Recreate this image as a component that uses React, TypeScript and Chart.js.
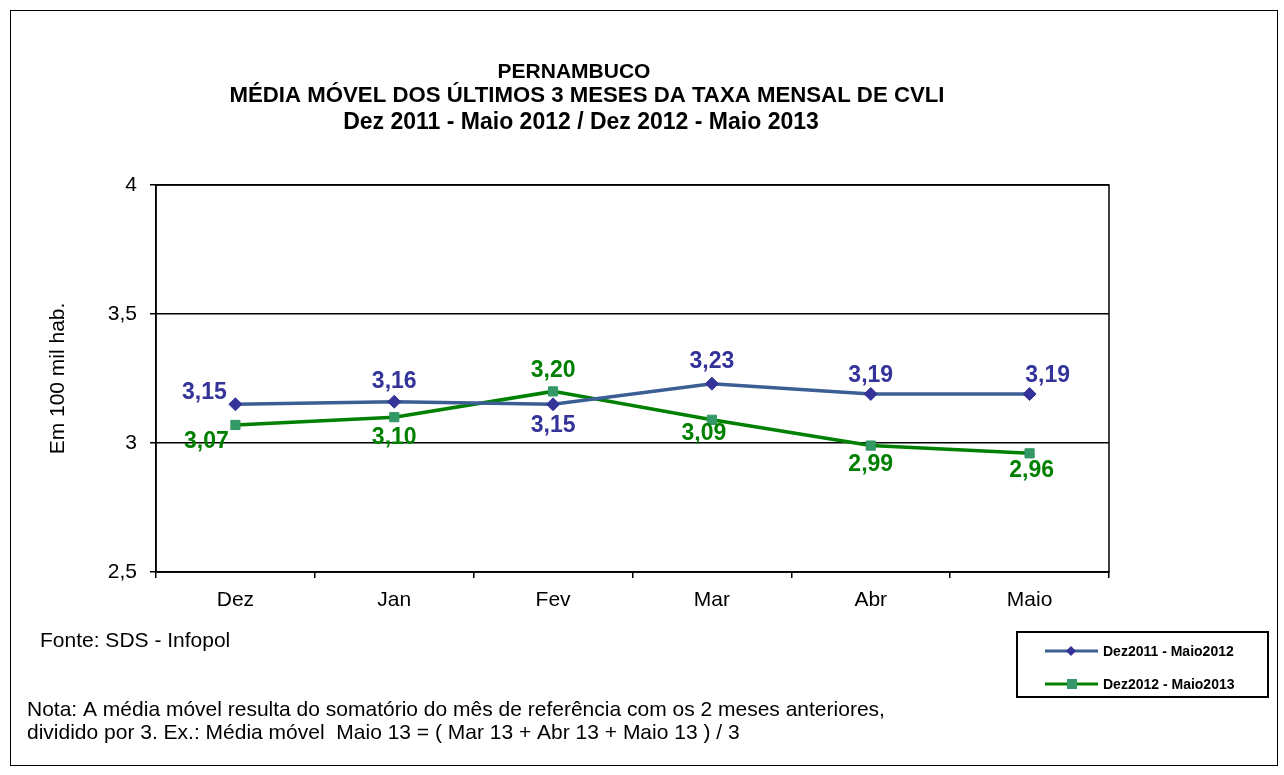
import React, { useEffect, useRef } from "react";
import { Chart, registerables } from "chart.js";

Chart.register(...registerables);

const categories = ["Dez", "Jan", "Fev", "Mar", "Abr", "Maio"];
const series2012 = [3.15, 3.16, 3.15, 3.23, 3.19, 3.19];
const series2013 = [3.07, 3.1, 3.2, 3.09, 2.99, 2.96];
const seriesNames = ["Dez2011 - Maio2012", "Dez2012 - Maio2013"];
const yTicks = [2.5, 3, 3.5, 4];
const titleLines = [
  "PERNAMBUCO",
  "MÉDIA MÓVEL DOS ÚLTIMOS 3 MESES DA TAXA MENSAL DE CVLI",
  "Dez 2011 - Maio 2012 / Dez 2012 - Maio 2013",
];
const yAxisTitle = "Em 100 mil hab.";
const sourceText = "Fonte: SDS - Infopol";
const noteLines = [
  "Nota: A média móvel resulta do somatório do mês de referência com os 2 meses anteriores,",
  "dividido por 3. Ex.: Média móvel  Maio 13 = ( Mar 13 + Abr 13 + Maio 13 ) / 3",
];

// label offsets (style) relative to each point
const labelOffsets2012 = [[-31, -12], [0, -20], [0, 21], [0, -22], [0, -18], [18, -18]];
const labelOffsets2013 = [[-29, 17], [0, 20], [0, -21], [-8, 14], [0, 19], [2, 17]];

const BLUE_LINE = "#3B5E95";
const BLUE_MARK = "#333399";
const GREEN_LINE = "#008000";
const GREEN_MARK = "#339966";
const FONT = "'Liberation Sans', Arial, sans-serif";

const fmt = (v: number) => v.toFixed(2).replace(".", ",");

const decorPlugin = {
  id: "decor",
  afterDatasetsDraw(chart: any) {
    const ctx = chart.ctx;
    ctx.save();
    const offsets = [labelOffsets2012, labelOffsets2013];
    const colors = [BLUE_MARK, GREEN_LINE];
    chart.data.datasets.forEach((ds: any, di: number) => {
      const meta = chart.getDatasetMeta(di);
      ctx.font = `bold 23px ${FONT}`;
      ctx.fillStyle = colors[di];
      ctx.textAlign = "center";
      ctx.textBaseline = "middle";
      meta.data.forEach((pt: any, i: number) => {
        const [dx, dy] = offsets[di][i];
        ctx.fillText(fmt(ds.data[i]), pt.x + dx, pt.y + dy);
      });
    });
    ctx.restore();
  },
  afterDraw(chart: any) {
    const ctx = chart.ctx;
    const { left, right, top, bottom } = chart.chartArea;
    ctx.save();
    ctx.strokeStyle = "#000";
    ctx.lineWidth = 1.5;
    ctx.strokeRect(left, top, right - left, bottom - top);
    ctx.lineWidth = 1;
    ctx.strokeRect(10.5, 10.5, 1267, 755);

    ctx.fillStyle = "#000";
    ctx.textAlign = "center";
    ctx.textBaseline = "middle";
    ctx.font = `bold 21px ${FONT}`;
    ctx.fillText(titleLines[0], 574, 72);
    ctx.save();
    ctx.font = `bold 22px ${FONT}`;
    const w2 = ctx.measureText(titleLines[1]).width;
    ctx.translate(587, 96);
    ctx.scale(715 / w2, 1);
    ctx.fillText(titleLines[1], 0, 0);
    ctx.restore();
    ctx.font = `bold 23px ${FONT}`;
    ctx.fillText(titleLines[2], 581, 123);

    ctx.save();
    ctx.translate(58, (top + bottom) / 2);
    ctx.rotate(-Math.PI / 2);
    ctx.font = `21px ${FONT}`;
    ctx.fillText(yAxisTitle, 0, 0);
    ctx.restore();

    ctx.textAlign = "left";
    ctx.font = `21px ${FONT}`;
    ctx.fillText(sourceText, 40, 641);
    ctx.fillText(noteLines[0], 27, 710);
    ctx.fillText(noteLines[1], 27, 733);

    ctx.strokeStyle = "#000";
    ctx.lineWidth = 2;
    ctx.strokeRect(1017, 632, 251, 65);
    const rows = [651, 684];
    const lineCols = [BLUE_LINE, GREEN_LINE];
    rows.forEach((y, i) => {
      ctx.strokeStyle = lineCols[i];
      ctx.lineWidth = 3;
      ctx.beginPath();
      ctx.moveTo(1045, y);
      ctx.lineTo(1098, y);
      ctx.stroke();
      if (i === 0) {
        ctx.fillStyle = BLUE_MARK;
        ctx.beginPath();
        ctx.moveTo(1071, y - 5);
        ctx.lineTo(1076, y);
        ctx.lineTo(1071, y + 5);
        ctx.lineTo(1066, y);
        ctx.closePath();
        ctx.fill();
      } else {
        ctx.fillStyle = GREEN_MARK;
        ctx.fillRect(1067, y - 5, 10, 10);
      }
      ctx.fillStyle = "#000";
      ctx.font = `bold 14px ${FONT}`;
      ctx.textAlign = "left";
      ctx.fillText(seriesNames[i], 1103, y + 1);
    });
    ctx.restore();
  },
};

export default function App() {
  const ref = useRef<HTMLCanvasElement>(null);
  useEffect(() => {
    if (!ref.current) return;
    const chart = new Chart(ref.current, {
      type: "line",
      data: {
        labels: categories,
        datasets: [
          {
            label: seriesNames[0],
            data: series2012,
            borderColor: BLUE_LINE,
            borderWidth: 3.5,
            pointStyle: "rectRot",
            pointRadius: 6.5,
            pointBackgroundColor: BLUE_MARK,
            pointBorderColor: BLUE_MARK,
            pointBorderWidth: 1,
            tension: 0,
          },
          {
            label: seriesNames[1],
            data: series2013,
            borderColor: GREEN_LINE,
            borderWidth: 3.5,
            pointStyle: "rect",
            pointRadius: 6.5,
            pointBackgroundColor: GREEN_MARK,
            pointBorderColor: GREEN_MARK,
            pointBorderWidth: 1,
            tension: 0,
          },
        ],
      },
      options: {
        responsive: false,
        animation: false,
        devicePixelRatio: 1,
        layout: { padding: { left: 0, top: 185, right: 175, bottom: 163 } },
        plugins: {
          legend: { display: false },
          title: { display: false },
          tooltip: { enabled: false },
        },
        scales: {
          x: {
            type: "category",
            offset: true,
            grid: {
              offset: true,
              drawOnChartArea: false,
              drawTicks: true,
              tickLength: 6,
              color: "#000",
              lineWidth: 1.5,
            },
            border: { display: true, color: "#000", width: 1.5 },
            ticks: {
              color: "#000",
              font: { family: FONT, size: 21 },
              padding: 10,
              maxRotation: 0,
            },
            afterFit(scale: any) {
              scale.height = 40;
            },
          },
          y: {
            min: 2.5,
            max: 4,
            afterBuildTicks(scale: any) {
              scale.ticks = yTicks.map((v) => ({ value: v }));
            },
            grid: {
              color: "#000",
              lineWidth: 1.5,
              tickLength: 6,
              drawTicks: true,
            },
            border: { display: true, color: "#000", width: 1.5 },
            ticks: {
              color: "#000",
              font: { family: FONT, size: 21 },
              padding: 13,
              callback: (v: any) => String(v).replace(".", ","),
            },
            afterFit(scale: any) {
              scale.width = 156;
            },
          },
        },
      },
      plugins: [decorPlugin],
    });
    return () => chart.destroy();
  }, []);
  return (
    <div style={{ position: "fixed", left: 0, top: 0, width: 1284, height: 775, background: "#fff" }}>
      <canvas ref={ref} width={1284} height={775} style={{ width: 1284, height: 775, display: "block" }} />
    </div>
  );
}
